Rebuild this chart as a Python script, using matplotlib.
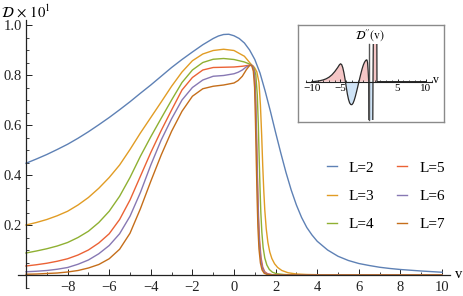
import matplotlib
matplotlib.use("Agg")
import matplotlib.pyplot as plt
from matplotlib.ticker import FixedLocator, FixedFormatter, MultipleLocator
import numpy as np

# ---------------- data ----------------
v_L2 = [-10, -9.5, -9, -8.5, -8, -7.5, -7, -6.5, -6, -5.5, -5, -4.5, -4, -3.5, -3, -2.5,
        -2, -1.5, -1, -0.75, -0.5, -0.25, 0, 0.25, 0.5, 0.75, 1, 1.25, 1.5, 1.75, 2, 2.25,
        2.5, 2.75, 3, 3.25, 3.5, 3.75, 4, 4.5, 5, 5.5, 6, 6.5, 7, 7.5, 8, 9, 10]
d_L2 = [0.447, 0.464, 0.482, 0.502, 0.523, 0.547, 0.573, 0.601, 0.630, 0.661, 0.693, 0.727,
        0.760, 0.795, 0.830, 0.862, 0.892, 0.921, 0.946, 0.956, 0.962, 0.963, 0.957, 0.946,
        0.928, 0.900, 0.862, 0.808, 0.735, 0.655, 0.570, 0.488, 0.410, 0.340, 0.280, 0.230,
        0.190, 0.160, 0.135, 0.100, 0.075, 0.058, 0.046, 0.038, 0.031, 0.026, 0.022, 0.016,
        0.011]

v_L3 = [-10, -9.5, -9, -8.5, -8, -7.5, -7, -6.5, -6, -5.5, -5, -4.5, -4, -3.5, -3, -2.5,
        -2, -1.5, -1, -0.5, 0, 0.5, 0.8, 1.0, 1.1, 1.2, 1.27, 1.33, 1.38, 1.43, 1.48, 1.55,
        1.63, 1.72, 1.82, 1.95, 2.1, 2.3, 2.6, 3.0, 3.5, 4.2, 6, 10]
d_L3 = [0.200, 0.210, 0.222, 0.237, 0.255, 0.280, 0.310, 0.347, 0.390, 0.440, 0.502, 0.568,
        0.630, 0.692, 0.755, 0.812, 0.857, 0.884, 0.898, 0.903, 0.898, 0.875, 0.845, 0.828,
        0.812, 0.770, 0.680, 0.560, 0.440, 0.340, 0.260, 0.185, 0.130, 0.092, 0.066, 0.045,
        0.030, 0.018, 0.009, 0.004, 0.002, 0.001, 0.0, 0.0]

v_L4 = [-10, -9.5, -9, -8.5, -8, -7.5, -7, -6.5, -6, -5.5, -5, -4.5, -4, -3.5, -3, -2.5,
        -2, -1.5, -1, -0.5, 0, 0.5, 0.8, 0.95, 1.05, 1.12, 1.17, 1.21, 1.25, 1.29, 1.34,
        1.4, 1.48, 1.58, 1.7, 1.85, 2.05, 2.4, 3, 10]
d_L4 = [0.088, 0.096, 0.105, 0.116, 0.130, 0.150, 0.175, 0.210, 0.255, 0.315, 0.390, 0.475,
        0.553, 0.627, 0.700, 0.770, 0.820, 0.850, 0.863, 0.866, 0.862, 0.852, 0.842, 0.832,
        0.800, 0.720, 0.600, 0.470, 0.350, 0.250, 0.170, 0.110, 0.068, 0.040, 0.022, 0.011,
        0.005, 0.002, 0.0, 0.0]

v_L5 = [-10, -9.5, -9, -8.5, -8, -7.5, -7, -6.5, -6, -5.5, -5, -4.5, -4, -3.5, -3, -2.5,
        -2, -1.5, -1, -0.5, 0, 0.4, 0.65, 0.8, 0.9, 0.97, 1.02, 1.06, 1.1, 1.14, 1.18, 1.23,
        1.3, 1.38, 1.48, 1.62, 1.85, 2.3, 10]
d_L5 = [0.036, 0.041, 0.047, 0.055, 0.065, 0.080, 0.100, 0.128, 0.165, 0.222, 0.300, 0.395,
        0.490, 0.578, 0.660, 0.740, 0.790, 0.820, 0.830, 0.831, 0.832, 0.835, 0.838, 0.840,
        0.836, 0.815, 0.760, 0.650, 0.500, 0.350, 0.230, 0.140, 0.070, 0.032, 0.013, 0.005,
        0.001, 0.0, 0.0]

v_L6 = [-10, -9.5, -9, -8.5, -8, -7.5, -7, -6.5, -6, -5.5, -5, -4.5, -4, -3.5, -3, -2.5,
        -2, -1.5, -1, -0.5, 0, 0.2, 0.4, 0.6, 0.8, 0.9, 0.97, 1.02, 1.06, 1.1, 1.14, 1.18,
        1.23, 1.3, 1.38, 1.48, 1.62, 1.85, 2.3, 10]
d_L6 = [0.013, 0.015, 0.018, 0.023, 0.030, 0.043, 0.060, 0.085, 0.118, 0.165, 0.235, 0.330,
        0.440, 0.540, 0.625, 0.700, 0.750, 0.780, 0.795, 0.798, 0.805, 0.811, 0.820, 0.833,
        0.840, 0.836, 0.812, 0.750, 0.630, 0.470, 0.320, 0.200, 0.115, 0.055, 0.024, 0.009,
        0.003, 0.001, 0.0, 0.0]

v_L7 = [-10, -9.5, -9, -8.5, -8, -7.5, -7, -6.5, -6, -5.5, -5, -4.5, -4, -3.5, -3, -2.5,
        -2, -1.5, -1, -0.5, 0, 0.2, 0.4, 0.6, 0.75, 0.85, 0.93, 0.99, 1.03, 1.07, 1.11, 1.15,
        1.2, 1.27, 1.35, 1.45, 1.6, 1.85, 2.3, 10]
d_L7 = [0.003, 0.004, 0.006, 0.008, 0.012, 0.018, 0.028, 0.042, 0.065, 0.103, 0.167, 0.265,
        0.375, 0.480, 0.575, 0.655, 0.715, 0.745, 0.755, 0.760, 0.768, 0.778, 0.795, 0.822,
        0.838, 0.838, 0.815, 0.750, 0.620, 0.460, 0.310, 0.190, 0.105, 0.048, 0.020, 0.007,
        0.002, 0.0, 0.0, 0.0]

labels = ["L=2", "L=3", "L=4", "L=5", "L=6", "L=7"]
colors = ["#5E81B5", "#E19C24", "#8FB032", "#EB6235", "#8778B3", "#C56E1A"]

xticks_major = [-8, -6, -4, -2, 0, 2, 4, 6, 8, 10]
xtick_labels = ["\u22128", "\u22126", "\u22124", "\u22122", "0", "2", "4", "6", "8", "10"]
yticks_major = [0.2, 0.4, 0.6, 0.8, 1.0]
ytick_labels = ["0.2", "0.4", "0.6", "0.8", "1.0"]

# inset: second derivative D''(v) (arbitrary units)
v_d2 = [-10, -9.5, -9, -8.5, -8, -7.5, -7, -6.5, -6, -5.5, -5.2, -5, -4.8, -4.6, -4.4,
        -4.2, -4.0, -3.8, -3.6, -3.4, -3.2, -3.0, -2.8, -2.6, -2.4, -2.2, -2.0, -1.8,
        -1.6, -1.4, -1.2, -1.0, -0.8, -0.6, -0.45, -0.35, -0.25, -0.15, -0.05, 0.05,
        0.55, 0.7, 0.95, 1.3, 1.4, 2, 10]
d2 = [0.0, 0.01, 0.03, 0.06, 0.10, 0.16, 0.25, 0.38, 0.56, 0.78, 0.93, 0.99, 0.95, 0.78,
      0.50, 0.14, -0.28, -0.68, -0.98, -1.18, -1.27, -1.28, -1.20, -1.04, -0.83, -0.58,
      -0.32, -0.05, 0.22, 0.48, 0.72, 0.92, 1.07, 1.17, 1.21, 1.20, 1.05, 0.60, 0.0,
      -10.0, -10.0, 0.0, 10.0, 10.0, 0.0, 0.0, 0.0]
inset_xticks = [-10, -5, 5, 10]
inset_xlabels = ["\u221210", "\u22125", "5", "10"]

# ---------------- figure ----------------
plt.rcParams['font.family'] = ['Liberation Serif', 'DejaVu Serif']
plt.rcParams['mathtext.fontset'] = 'stix'

W, H = 463, 296
fig = plt.figure(figsize=(W / 100, H / 100), dpi=100)

def fx(px):
    return px / W

def fy(py):
    return 1 - py / H

# main axes: px 18..450 horizontally, 20..288 vertically
ax = fig.add_axes([fx(18), fy(288), fx(450) - fx(18), fy(20) - fy(288)])
ax.set_xlim(-10.385, 10.385)
ax.set_ylim(-0.052, 1.02)

series_v = [v_L2, v_L3, v_L4, v_L5, v_L6, v_L7]
series_d = [d_L2, d_L3, d_L4, d_L5, d_L6, d_L7]
handles = []
for vv, dd, c, lab in zip(series_v, series_d, colors, labels):
    h, = ax.plot(vv, dd, color=c, lw=1.0, label=lab, solid_joinstyle='round')
    handles.append(h)

for s in ['top', 'right']:
    ax.spines[s].set_visible(False)
ax.spines['left'].set_position(('data', -10))
ax.spines['bottom'].set_position(('data', 0))
for s in ['left', 'bottom']:
    ax.spines[s].set_color('#222222')
    ax.spines[s].set_linewidth(0.9)

ax.xaxis.set_major_locator(FixedLocator(xticks_major))
ax.xaxis.set_major_formatter(FixedFormatter(xtick_labels))
ax.xaxis.set_minor_locator(MultipleLocator(1))
ax.yaxis.set_major_locator(FixedLocator(yticks_major))
ax.yaxis.set_major_formatter(FixedFormatter(ytick_labels))
ax.yaxis.set_minor_locator(MultipleLocator(0.05))
ax.tick_params(which='major', direction='in', length=4, width=0.7, labelsize=10.5,
               colors='#222222', pad=3)
ax.tick_params(which='minor', direction='in', length=2.2, width=0.6, colors='#222222')
ax.tick_params(axis='x', pad=4)

fig.text(fx(1), fy(12), r"$\mathcal{D}\,\times\,10^{1}$", fontsize=10.5, ha='left', va='center')
fig.text(fx(455), fy(274), "v", fontsize=10.5, ha='left', va='center')

leg = ax.legend(handles=handles, ncol=2, loc='center',
                bbox_to_anchor=(fx(386), fy(196)), bbox_transform=fig.transFigure,
                frameon=False, fontsize=11, handlelength=0.65, handletextpad=0.8,
                columnspacing=1.5, labelspacing=0.95, borderpad=0)
for line in leg.get_lines():
    line.set_linewidth(1.0)

# ---------------- inset ----------------
box = fig.add_axes([fx(298), fy(122), fx(444) - fx(298), fy(25) - fy(122)])
box.set_xticks([])
box.set_yticks([])
box.patch.set_facecolor('white')
for s in box.spines.values():
    s.set_color('#8a8a8a')
    s.set_linewidth(1.0)

ins = fig.add_axes([fx(306), fy(120), fx(432) - fx(306), fy(44) - fy(120)])
ins.patch.set_alpha(0)
ins.set_xlim(-11.05, 11.05)
ins.set_ylim(-2.13, 2.09)
v_arr = np.array(v_d2)
d_arr = np.array(d2)
ins.fill_between(v_arr, d_arr, 0, where=d_arr >= 0, interpolate=True,
                 color='#F5C6C6', lw=0)
ins.fill_between(v_arr, d_arr, 0, where=d_arr <= 0, interpolate=True,
                 color='#CFE4F7', lw=0)
ins.plot(v_arr, d_arr, color='#2a2a2a', lw=0.9)
for s in ['top', 'right']:
    ins.spines[s].set_visible(False)
ins.spines['left'].set_position(('data', 0))
ins.spines['bottom'].set_position(('data', 0))
ins.spines['left'].set_color('#555555')
ins.spines['bottom'].set_color('#222222')
ins.spines['left'].set_linewidth(1.0)
ins.spines['bottom'].set_linewidth(0.8)
ins.set_xticks(inset_xticks)
ins.set_xticklabels(inset_xlabels)
ins.xaxis.set_minor_locator(MultipleLocator(1))
ins.set_yticks([])
ins.tick_params(which='major', direction='in', length=2.5, width=0.6, labelsize=8, pad=1.5)
ins.tick_params(which='minor', direction='in', length=1.5, width=0.5)
fig.text(fx(370), fy(35), r"$\mathcal{D}''(\mathrm{v})$", fontsize=8.5, ha='center', va='center')
fig.text(fx(433), fy(80), "v", fontsize=8.5, ha='left', va='center')

fig.savefig("out.png", dpi=100)
